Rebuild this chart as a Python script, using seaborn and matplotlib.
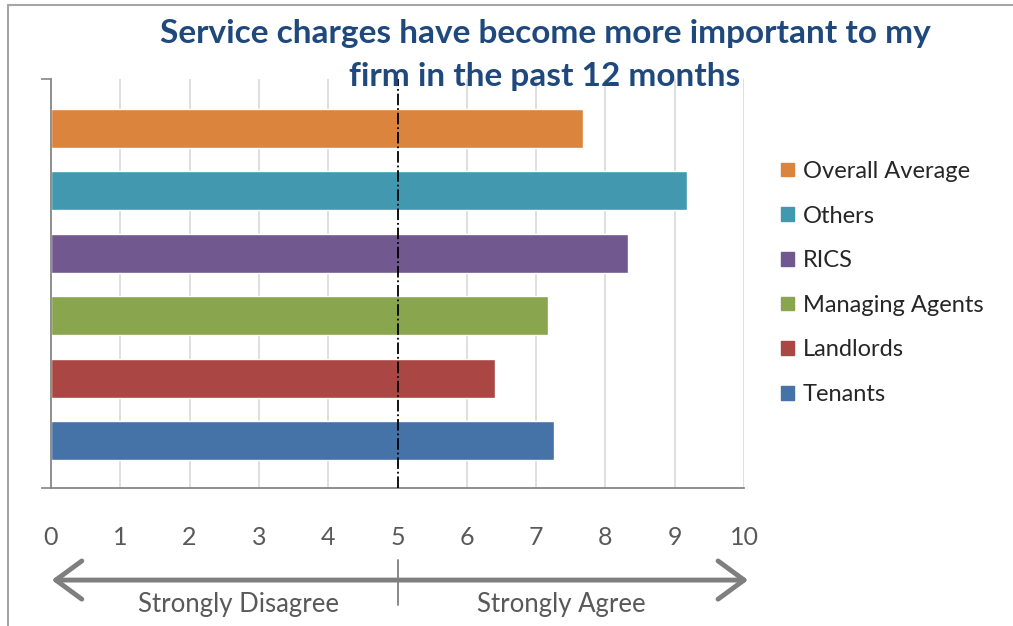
import matplotlib
matplotlib.use("Agg")
import matplotlib.pyplot as plt
import matplotlib.patches as mpatches
import seaborn as sns
import pandas as pd

# values (top to bottom)
groups = ["Overall Average", "Others", "RICS", "Managing Agents", "Landlords", "Tenants"]
scores = [7.68, 9.18, 8.32, 7.17, 6.40, 7.26]
colors = ["#DB843D", "#4198AF", "#71588F", "#89A54E", "#AA4643", "#4572A7"]
xticks = list(range(0, 11))
title = "Service charges have become more important to my\nfirm in the past 12 months"
left_label = "Strongly Disagree"
right_label = "Strongly Agree"
midpoint = 5

sns.set_theme(style="white")
plt.rcParams['font.family'] = ['Lato', 'DejaVu Sans']

df = pd.DataFrame({"group": groups, "score": scores})

fig = plt.figure(figsize=(10.13, 6.26), dpi=100)
ax = fig.add_axes([0.0503, 0.2204, 0.6842, 0.6534])

sns.barplot(data=df, x="score", y="group", hue="group", palette=colors,
            order=groups, hue_order=groups, orient="h", width=0.625,
            legend=False, saturation=1, ax=ax, zorder=2)

ax.set_xlim(0, 10)
ax.set_ylim(5.76, -0.79)
ax.set_xticks(xticks)
ax.set_xticklabels([str(t) for t in xticks], fontsize=18, color="#595959")
ax.tick_params(axis="x", length=0, pad=27)
ax.set_yticks([-0.79, 5.76])
ax.set_yticklabels(["", ""])
ax.tick_params(axis="y", length=7, width=1.2, color="#868686", left=True)
ax.set_xlabel("")
ax.set_ylabel("")

# gridlines
for t in xticks[1:]:
    if t != midpoint:
        ax.axvline(t, color="#D9D9D9", lw=1.2, zorder=0)
ax.axvline(midpoint, color="black", lw=1.3, ls="-.", zorder=3)

for s in ["top", "right"]:
    ax.spines[s].set_visible(False)
for s in ["left", "bottom"]:
    ax.spines[s].set_color("#868686")
    ax.spines[s].set_linewidth(1.3)

# agree / disagree scale under the axis
trans = ax.get_xaxis_transform()
ax.annotate("", xy=(-0.03, -0.225), xytext=(10.1, -0.225), xycoords=trans,
            textcoords=trans, annotation_clip=False,
            arrowprops=dict(arrowstyle="<->,head_length=0.75,head_width=0.55",
                            lw=3.5, color="#7F7F7F", mutation_scale=25))
ax.plot([midpoint, midpoint], [-0.176, -0.286], transform=trans,
        color="#7F7F7F", lw=1.3, clip_on=False)
ax.text(2.7, -0.284, left_label, transform=trans, ha="center", va="center",
        fontsize=18.5, color="#595959")
ax.text(7.37, -0.284, right_label, transform=trans, ha="center", va="center",
        fontsize=18.5, color="#595959")

# legend
handles = [mpatches.Patch(color=c) for c in colors]
fig.legend(handles, groups, loc="upper left", bbox_to_anchor=(0.762, 0.758),
           frameon=False, fontsize=17, handlelength=0.52, handleheight=0.52,
           handletextpad=0.4, labelspacing=1.0, borderaxespad=0)

fig.text(0.538, 1 - 55 / 626, title, ha="center", va="center",
         fontsize=24, fontweight="bold", color="#1F497D", linespacing=1.58)

# outer chart frame
fig.add_artist(plt.Line2D([8 / 1013, 8 / 1013], [0, 1 - 5 / 626],
                          transform=fig.transFigure, color="#A6A6A6", lw=1.5))
fig.add_artist(plt.Line2D([8 / 1013, 1], [1 - 5 / 626, 1 - 5 / 626],
                          transform=fig.transFigure, color="#A6A6A6", lw=1.5))

fig.savefig("out.png", dpi=100)
